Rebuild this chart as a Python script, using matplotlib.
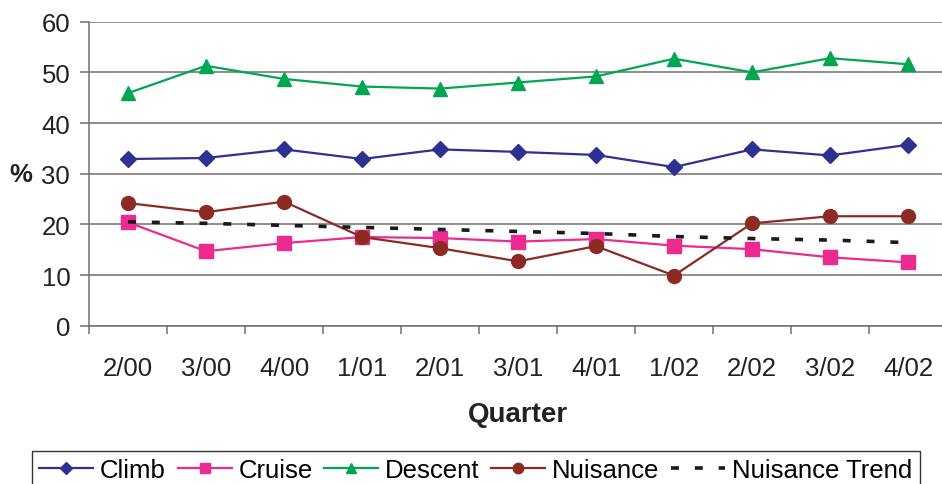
import matplotlib
matplotlib.use("Agg")
import matplotlib.pyplot as plt

plt.rcParams['font.family'] = ['Liberation Sans', 'DejaVu Sans']

quarters = ['2/00', '3/00', '4/00', '1/01', '2/01', '3/01', '4/01', '1/02', '2/02', '3/02', '4/02']
climb = [32.9, 33.1, 34.8, 32.9, 34.8, 34.3, 33.7, 31.3, 34.8, 33.6, 35.7]
cruise = [20.4, 14.7, 16.3, 17.5, 17.3, 16.6, 17.1, 15.8, 15.1, 13.5, 12.5]
descent = [45.9, 51.3, 48.7, 47.2, 46.8, 48.0, 49.2, 52.7, 50.0, 52.8, 51.6]
nuisance = [24.2, 22.4, 24.5, 17.5, 15.3, 12.7, 15.7, 9.9, 20.2, 21.6, 21.6]
nuisance_trend = [20.5, 20.2, 19.8, 19.4, 19.0, 18.6, 18.2, 17.6, 17.2, 16.9, 16.4]

fig = plt.figure(figsize=(9.42, 4.85), dpi=100)
ax = fig.add_axes([89 / 942, 1 - 326.7 / 485, 858 / 942, (326.7 - 22.7) / 485])

x = range(len(quarters))
ax.plot(x, climb, color='#2E3192', lw=1.6, marker='D', ms=8.5, label='Climb')
ax.plot(x, cruise, color='#EC2A8F', lw=1.6, marker='s', ms=9.5, label='Cruise')
ax.plot(x, descent, color='#00A651', lw=1.6, marker='^', ms=10.5, label='Descent')
ax.plot(x, nuisance, color='#8E2A24', lw=1.6, marker='o', ms=10, label='Nuisance')
ax.plot(x, nuisance_trend, color='#1a1a1a', lw=2.6, ls=(0, (2.2, 4.4)), label='Nuisance Trend')

# axes
ax.set_xlim(-0.5, len(quarters) - 0.5)
ax.set_ylim(0, 60)
ax.set_yticks(range(0, 61, 10))
ax.yaxis.grid(True, color='#707070', lw=1.1)
ax.set_axisbelow(True)
for s in ['top', 'right']:
    ax.spines[s].set_visible(False)
for s in ['left', 'bottom']:
    ax.spines[s].set_color('#707070')
    ax.spines[s].set_linewidth(1.1)

ax.set_xticks(list(x))
ax.set_xticklabels(quarters)
ax.set_xticks([i - 0.5 for i in range(len(quarters) + 1)], minor=True)
ax.tick_params(axis='x', which='major', length=0, pad=22, labelsize=18.5, labelcolor='#222222')
ax.tick_params(axis='x', which='minor', length=6, width=1.1, color='#707070')
ax.tick_params(axis='y', length=6.5, width=1.1, color='#707070', pad=7, labelsize=18.5, labelcolor='#222222')

ax.set_xlabel('Quarter', fontsize=20, fontweight='bold', labelpad=15, color='#222222')
ax.set_ylabel('%', fontsize=18.5, fontweight='bold', rotation=0, va='center', ha='center', color='#222222')
ax.yaxis.set_label_coords(-0.08, 0.5)

# legend box is cut by the bottom edge, like in the original
fig.legend(loc='upper center', bbox_to_anchor=(0.505, 1 - 451.7 / 485), ncol=5,
           fontsize=18.5, frameon=True, fancybox=False, edgecolor='black',
           handlelength=2.1, handletextpad=0.27, columnspacing=0.45,
           markerscale=0.75, borderpad=0.3, borderaxespad=0)

fig.savefig('out.png', dpi=100)
